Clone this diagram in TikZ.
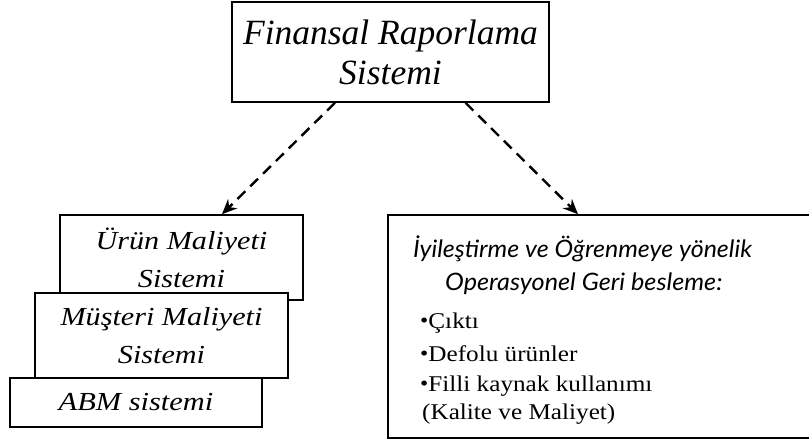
\documentclass[tikz,border=0pt]{standalone}
\usepackage{fontspec}
\usepackage{graphicx}
\setmainfont{Liberation Serif}
\newfontfamily\humanist{Lato}
\usetikzlibrary{arrows.meta}
% horizontally widened text, for the loosely set labels
\newcommand\widen[2]{\scalebox{#1}[1]{#2}}
\newcommand\smallbullet{{\fontsize{21}{21}\selectfont\raisebox{1pt}{•}}}
\begin{document}
\begin{tikzpicture}[x=1pt,y=-1pt,
  box/.style={draw, line width=1.6pt, fill=white, inner sep=0pt, align=center},
  costbox/.style={box, font=\itshape\fontsize{26}{38}\selectfont},
  flow/.style={line width=2.4pt, dash pattern=on 11pt off 7pt,
    -{Stealth[length=15pt,width=13pt,inset=5pt]}},
  listtext/.style={anchor=base west, inner sep=0pt, font=\fontsize{22.5}{30}\selectfont},
  headtext/.style={anchor=base west, inner sep=0pt, font=\humanist\itshape\fontsize{24}{28}\selectfont},
]
\useasboundingbox (0,0) rectangle (809,442);
\clip (0,0) rectangle (809,442);

% top system
\node[box, minimum width=317pt, minimum height=100pt,
      font=\itshape\fontsize{35.5}{40}\selectfont] (frs) at (390.5,52) {Finansal Raporlama\\Sistemi};

% stacked cost systems (back to front)
\node[costbox, minimum width=243pt, minimum height=85pt] (urun) at (181.5,257.5)
  {\widen{1.16}{Ürün Maliyeti}\\\widen{1.16}{Sistemi}};
\node[costbox, minimum width=253pt, minimum height=85pt] (must) at (161.5,335.5)
  {\widen{1.16}{Müşteri Maliyeti}\\\widen{1.16}{Sistemi}};
\node[costbox, minimum width=252pt, minimum height=49pt] (abm) at (136,402.5)
  {\widen{1.17}{ABM sistemi}};

% operational feedback panel
\node[box, minimum width=427pt, minimum height=223pt] (feed) at (601.5,326.5) {};
\node[headtext] (h1) at (413,257) {\widen{1.04}{İyileştirme ve Öğrenmeye yönelik}};
\node[headtext] (h2) at (445,290) {\widen{1.05}{Operasyonel Geri besleme:}};
\node[listtext] (b1) at (420,328) {\widen{1.12}{\smallbullet Çıktı}};
\node[listtext] (b2) at (420,361) {\widen{1.12}{\smallbullet Defolu ürünler}};
\node[listtext] (b3) at (420,391) {\widen{1.12}{\smallbullet Filli kaynak kullanımı}};
\node[listtext] (b4) at (422,419) {\widen{1.12}{(Kalite ve Maliyet)}};

% dashed links
\draw[flow] ([xshift=-55.5pt]frs.south) -- ([xshift=40.5pt]urun.north);
\draw[flow] ([xshift=75pt]frs.south) -- ([xshift=-23.5pt]feed.north);
\end{tikzpicture}
\end{document}
